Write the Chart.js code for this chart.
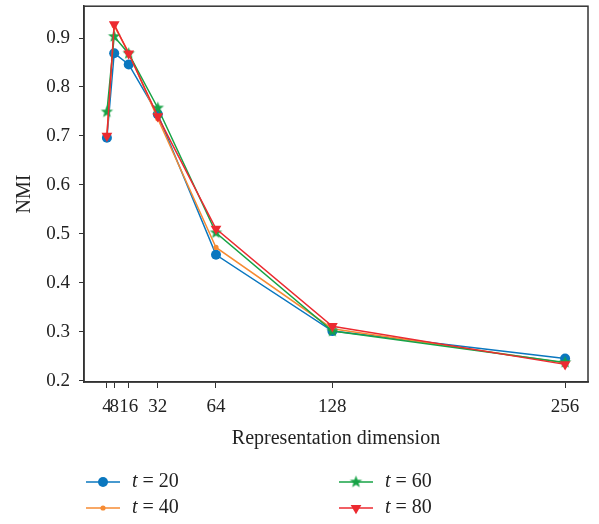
<!DOCTYPE html>
<html>
<head>
<meta charset="utf-8">
<script src="https://cdn.jsdelivr.net/npm/chart.js@4.4.1/dist/chart.umd.min.js"></script>
<style>
  html, body { margin: 0; padding: 0; background: #fff; }
  #wrap { width: 599px; height: 524px; position: relative; }
</style>
</head>
<body>
<div id="wrap"><canvas id="nmi"></canvas></div>
<script>
// data
var dims = [4, 8, 16, 32, 64, 128, 256];
var nmiT20 = [0.696, 0.869, 0.846, 0.744, 0.457, 0.301, 0.245];
var nmiT40 = [0.700, 0.925, 0.870, 0.735, 0.472, 0.306, 0.236];
var nmiT60 = [0.749, 0.903, 0.868, 0.757, 0.502, 0.301, 0.237];
var nmiT80 = [0.700, 0.928, 0.868, 0.740, 0.510, 0.311, 0.233];
var seriesLabels = ["20", "40", "60", "80"];
var yTicks = [0.2, 0.3, 0.4, 0.5, 0.6, 0.7, 0.8, 0.9];

var BLUE = "#0a77bf", ORANGE = "#f68b33", GREEN = "#17a346", RED = "#ec2a30";
var FONT = "'Liberation Serif', 'DejaVu Serif', serif";

// filled five point star for t = 60
function makeStar(color, outer, inner) {
  var c = document.createElement("canvas");
  var s = Math.ceil(outer * 2 + 2);
  c.width = s; c.height = s;
  var g = c.getContext("2d");
  g.fillStyle = color;
  g.beginPath();
  for (var i = 0; i < 10; i++) {
    var r = i % 2 === 0 ? outer : inner;
    var a = -Math.PI / 2 + i * Math.PI / 5;
    var px = s / 2 + r * Math.cos(a), py = s / 2 + r * Math.sin(a);
    if (i === 0) g.moveTo(px, py); else g.lineTo(px, py);
  }
  g.closePath();
  g.fill();
  return c;
}
var starImg = makeStar(GREEN, 6.5, 2.7);

function toPoints(ys) {
  return dims.map(function(d, i) { return {x: d, y: ys[i]}; });
}

function series(label, ys, color, style, radius, order) {
  return {
    label: label,
    data: toPoints(ys),
    borderColor: color,
    backgroundColor: color,
    borderWidth: 1.5,
    pointStyle: style,
    pointRadius: radius,
    pointBorderWidth: 0,
    pointBackgroundColor: color,
    tension: 0,
    order: order
  };
}

var datasets = [
  series(seriesLabels[0], nmiT20, BLUE, "circle", 5, 3),
  series(seriesLabels[1], nmiT40, ORANGE, "circle", 2.6, 2),
  series(seriesLabels[2], nmiT60, GREEN, starImg, 6, 1),
  series(seriesLabels[3], nmiT80, RED, "triangle", 6.2, 0)
];
datasets[3].pointRotation = 180;

// frame round the plot area
var framePlugin = {
  id: "frame",
  afterDatasetsDraw: function(chart) {
    var a = chart.chartArea, ctx = chart.ctx;
    ctx.save();
    ctx.strokeStyle = "#333";
    ctx.lineWidth = 1.5;
    ctx.strokeRect(a.left, a.top, a.right - a.left, a.bottom - a.top);
    ctx.restore();
  }
};

// two column legend below the axis title
var legendPlugin = {
  id: "twoColLegend",
  afterDraw: function(chart) {
    var ctx = chart.ctx;
    var cols = [86, 339];
    var rows = [482, 508];
    var order = [0, 2, 1, 3];
    ctx.save();
    order.forEach(function(di, k) {
      var ds = chart.data.datasets[di];
      var x = cols[k % 2], y = rows[Math.floor(k / 2)];
      ctx.strokeStyle = ds.borderColor;
      ctx.lineWidth = 1.5;
      ctx.beginPath();
      ctx.moveTo(x, y); ctx.lineTo(x + 34, y);
      ctx.stroke();
      ctx.fillStyle = ds.borderColor;
      ctx.beginPath();
      if (ds.pointStyle === "circle") {
        ctx.arc(x + 17, y, ds.pointRadius, 0, Math.PI * 2);
        ctx.fill();
      } else if (ds.pointStyle === "triangle") {
        var r = ds.pointRadius;
        ctx.moveTo(x + 17, y + r);
        ctx.lineTo(x + 17 - r * 0.866, y - r / 2);
        ctx.lineTo(x + 17 + r * 0.866, y - r / 2);
        ctx.closePath();
        ctx.fill();
      } else {
        ctx.drawImage(ds.pointStyle, x + 17 - ds.pointStyle.width / 2, y - ds.pointStyle.height / 2);
      }
      ctx.fillStyle = "#222";
      ctx.textBaseline = "middle";
      ctx.textAlign = "left";
      ctx.font = "italic 20px " + FONT;
      var tx = x + 46;
      ctx.fillText("t", tx, y);
      tx += ctx.measureText("t").width;
      ctx.font = "20px " + FONT;
      ctx.fillText(" = " + ds.label, tx, y);
    });
    ctx.restore();
  }
};

new Chart("nmi", {
  type: "line",
  data: { datasets: datasets },
  plugins: [framePlugin, legendPlugin],
  options: {
    responsive: true,
    maintainAspectRatio: false,
    animation: false,
    layout: { padding: { top: 5, right: 11, left: 0, bottom: 62 } },
    plugins: { legend: { display: false }, tooltip: { enabled: false } },
    scales: {
      x: {
        type: "linear",
        min: -8.6,
        max: 268.6,
        afterBuildTicks: function(scale) {
          scale.ticks = dims.map(function(v) { return {value: v}; });
        },
        afterFit: function(scale) { scale.height = 80; },
        ticks: {
          autoSkip: false,
          maxRotation: 0,
          padding: 8,
          color: "#222",
          font: { family: FONT, size: 19 },
          callback: function(v) { return String(v); }
        },
        grid: { drawOnChartArea: false, drawTicks: true, tickLength: 6, color: "#333", tickWidth: 1 },
        border: { display: true, color: "#333", width: 1.5 },
        title: {
          display: true,
          text: "Representation dimension",
          color: "#222",
          font: { family: FONT, size: 20 },
          padding: { top: 0, bottom: 11 }
        }
      },
      y: {
        type: "linear",
        min: 0.197,
        max: 0.965,
        afterBuildTicks: function(scale) {
          scale.ticks = yTicks.map(function(v) { return {value: v}; });
        },
        afterFit: function(scale) {
          scale.width = 84;
          scale.paddingTop = 0;
          scale.paddingBottom = 0;
        },
        ticks: {
          padding: 9,
          color: "#222",
          font: { family: FONT, size: 19 },
          callback: function(v) { return v.toFixed(1); }
        },
        grid: { drawOnChartArea: false, drawTicks: true, tickLength: 5, color: "#333", tickWidth: 1 },
        border: { display: true, color: "#333", width: 1.5 },
        title: {
          display: true,
          text: "NMI",
          color: "#222",
          font: { family: FONT, size: 20 },
          padding: { top: 13, bottom: 0 }
        }
      }
    }
  }
});
</script>
</body>
</html>
